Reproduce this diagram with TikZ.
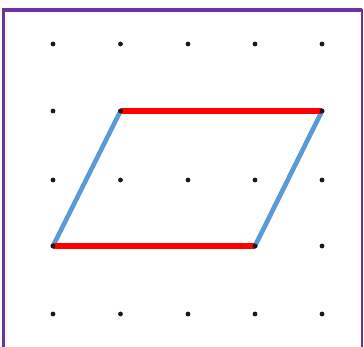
\documentclass[tikz,border=0pt]{standalone}
\definecolor{marc}{HTML}{7030A0}
\definecolor{costa}{HTML}{FF0000}
\definecolor{lateral}{HTML}{5B9BD5}
\definecolor{punt}{HTML}{1A1A1A}
\tikzset{
  vora/.style={draw=marc, line width=2.6pt},
  voraprima/.style={draw=marc, line width=1.4pt},
  punta/.style={fill=punt},
  horitzontal/.style={draw=costa, line width=4.4pt},
  inclinat/.style={draw=lateral, line width=4pt},
}
\begin{document}
\begin{tikzpicture}[x=0.03cm,y=0.03cm]
  \useasboundingbox (0,0) rectangle (364,347);

  % Marc de la quadrícula, obert per sota.
  \draw[vora] (3.5,0)--(3.5,337)--(362,337);
  \draw[voraprima] (362,338)--(362,0);

  % Punts de la trama 5x5.
  \foreach \x in {53,120.5,188,255,322}
    \foreach \y in {33,101,167,236,303}
      \fill[punta] (\x,\y) circle (2.4);

  % Vèrtexs del paral·lelogram.
  \coordinate (A) at (53,101);
  \coordinate (B) at (255,101);
  \coordinate (C) at (322,236);
  \coordinate (D) at (120.5,236);

  % Costats inclinats i costats horitzontals.
  \draw[inclinat] (A)--(D);
  \draw[inclinat] (B)--(C);
  \draw[horitzontal] (A)--(B);
  \draw[horitzontal] (D)--(C);

  % Els vèrtexs queden marcats per sobre dels costats.
  \foreach \v in {A,B,C,D}
    \fill[punta] (\v) circle (2.4);
\end{tikzpicture}
\end{document}
